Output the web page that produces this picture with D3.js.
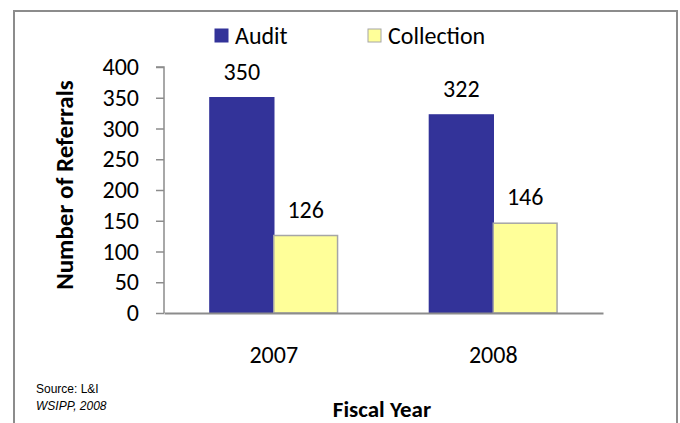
<!DOCTYPE html>
<html lang="en">
<head>
<meta charset="utf-8">
<title>Referrals</title>
<script src="https://cdn.jsdelivr.net/npm/d3@7"></script>
<style>
  body { margin: 0; background: #fff; }
  text { font-family: Carlito, "Open Sans", "Noto Sans", sans-serif; }
</style>
</head>
<body>
<svg id="chart" width="680" height="423"></svg>
<script>
var years = ["2007", "2008"]
var seriesNames = ["Audit", "Collection"]
var audit = [350, 322]
var collection = [126, 146]
var yTicks = [0, 50, 100, 150, 200, 250, 300, 350, 400]

var colors = {"Audit": "#333399", "Collection": "#ffff99"}
var strokes = {"Audit": "#333399", "Collection": "#a6a6a6"}

var data = years.map((y, i) => ({year: y, Audit: audit[i], Collection: collection[i]}))

var svg = d3.select("#chart")

// outer frame
svg.append("rect")
  .attr("x", 14).attr("y", 11)
  .attr("width", 663).attr("height", 430)
  .attr("fill", "none")
  .attr("stroke", "#8c8c8c")
  .attr("stroke-width", 2)

var plotL = 164, plotR = 603, plotT = 67, plotB = 313

var x = d3.scaleBand().domain(years).range([plotL, plotR])
var x1 = d3.scaleBand().domain(seriesNames).range([0, x.bandwidth()]).paddingOuter(0.72).paddingInner(0)
var y = d3.scaleLinear().domain([0, 400]).range([plotB, plotT])

// y axis
var yAxis = svg.append("g")
  .attr("transform", `translate(${plotL},0)`)
  .call(d3.axisLeft(y).tickValues(yTicks).tickSize(8).tickPadding(17))
yAxis.selectAll("path, line").attr("stroke", "#8c8c8c").attr("stroke-width", 1.5)
yAxis.select("path").attr("d", `M-8,${plotT}H0V${plotB}`)
yAxis.selectAll("text").attr("font-size", "24px").attr("fill", "#000")
  .style("font-family", "Carlito, 'Open Sans', sans-serif")

// bars
var groups = svg.selectAll("g.year")
  .data(data)
  .enter().append("g")
  .attr("class", "year")
  .attr("transform", d => `translate(${x(d.year)},0)`)

groups.selectAll("rect")
  .data(d => seriesNames.map(k => ({key: k, value: d[k]})))
  .enter().append("rect")
  .attr("x", d => x1(d.key))
  .attr("y", d => y(d.value))
  .attr("width", x1.bandwidth())
  .attr("height", d => plotB - y(d.value))
  .attr("fill", d => colors[d.key])
  .attr("stroke", d => strokes[d.key])
  .attr("stroke-width", 1.5)

groups.selectAll("text.val")
  .data(d => seriesNames.map(k => ({key: k, value: d[k]})))
  .enter().append("text")
  .attr("class", "val")
  .attr("x", d => x1(d.key) + x1.bandwidth() / 2)
  .attr("y", d => y(d.value) - 18)
  .attr("text-anchor", "middle")
  .attr("font-size", "24px")
  .text(d => d.value)

// x axis
var xAxis = svg.append("g")
  .attr("transform", `translate(0,${plotB})`)
  .call(d3.axisBottom(x).tickSize(0).tickPadding(33))
xAxis.select("path").attr("stroke", "#8c8c8c").attr("stroke-width", 2)
xAxis.selectAll("text").attr("font-size", "24px").attr("fill", "#000")
  .style("font-family", "Carlito, 'Open Sans', sans-serif")

// axis titles
svg.append("text")
  .attr("transform", "translate(73,185) rotate(-90)")
  .attr("text-anchor", "middle")
  .attr("font-size", "25px")
  .attr("font-weight", "bold")
  .text("Number of Referrals")

svg.append("text")
  .attr("x", 382).attr("y", 417)
  .attr("text-anchor", "middle")
  .attr("font-size", "23px")
  .attr("font-weight", "bold")
  .text("Fiscal Year")

// legend
var legX = [215, 368]
var leg = svg.selectAll("g.leg")
  .data(seriesNames)
  .enter().append("g")
  .attr("class", "leg")
  .attr("transform", (d, i) => `translate(${legX[i]},29)`)
leg.append("rect")
  .attr("width", 13).attr("height", 13)
  .attr("fill", d => colors[d])
  .attr("stroke", d => strokes[d])
leg.append("text")
  .attr("x", 20).attr("y", 15)
  .attr("font-size", "24px")
  .text(d => d)

// source note
svg.append("text")
  .attr("x", 36).attr("y", 393)
  .style("font-family", "'Liberation Sans', Arial, sans-serif")
  .attr("font-size", "12px")
  .text("Source: L&I")
svg.append("text")
  .attr("x", 36).attr("y", 410)
  .style("font-family", "'Liberation Sans', Arial, sans-serif")
  .attr("font-size", "12px")
  .attr("font-style", "italic")
  .text("WSIPP, 2008")
</script>
</body>
</html>
